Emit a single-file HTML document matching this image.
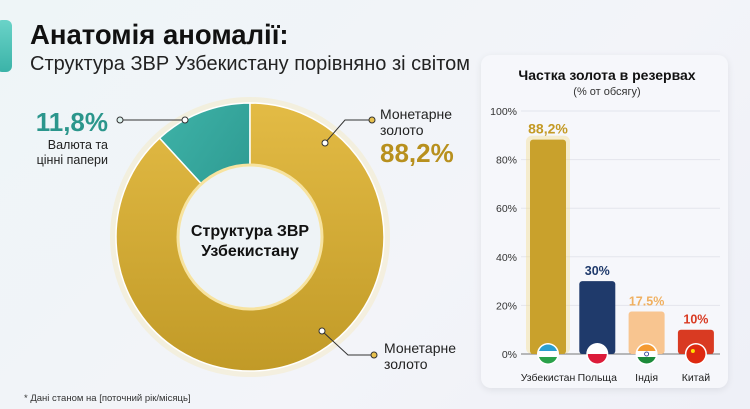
<!DOCTYPE html>
<html><head><meta charset="utf-8"><style>
body{margin:0;width:750px;height:409px;overflow:hidden;background:linear-gradient(135deg,#eef5f7,#f3f4f9 60%,#eef0f7);font-family:"Liberation Sans","Noto Sans CJK SC",sans-serif;position:relative}
.abs{position:absolute}
</style></head><body>
<div class="abs" style="left:-4px;top:20px;width:16px;height:52px;border-radius:6px;background:linear-gradient(#6ad3c8,#3bb3a8)"></div>
<div class="abs" style="left:30px;top:19px;font-size:27.5px;font-weight:bold;color:#111">Анатомія аномалії:</div>
<div class="abs" style="left:30px;top:53px;font-size:20px;color:#222">Структура ЗВР Узбекистану порівняно зі світом</div>

<svg class="abs" style="left:0;top:0" width="480" height="409">
  <defs>
    <linearGradient id="gold" x1="0" y1="0" x2="0" y2="1"><stop offset="0" stop-color="#e3bb45"/><stop offset="1" stop-color="#c19a27"/></linearGradient>
    <linearGradient id="teal" x1="0" y1="0" x2="1" y2="1"><stop offset="0" stop-color="#3fb3a8"/><stop offset="1" stop-color="#2a958d"/></linearGradient>
  </defs>
  <circle cx="250" cy="237" r="140" fill="#f7e6b0" opacity="0.35"/>
  <g id="slices"></g>
  <circle cx="250" cy="237" r="72" fill="#eef3f6" stroke="#f7e3a0" stroke-width="3"/>
  <text x="250" y="236" text-anchor="middle" font-size="16" font-weight="bold" fill="#111">Структура ЗВР</text>
  <text x="250" y="256" text-anchor="middle" font-size="16" font-weight="bold" fill="#111">Узбекистану</text>
  <g stroke="#333" fill="#fff" stroke-width="1">
    <line x1="120" y1="120" x2="185" y2="120"/><circle cx="120" cy="120" r="3" fill="#dff3f0"/><circle cx="185" cy="120" r="3"/>
  </g>
  <text x="108" y="131" text-anchor="end" font-size="26" font-weight="bold" fill="#2b968c">11,8%</text>
  <text x="108" y="149" text-anchor="end" font-size="12.5" fill="#222">Валюта та</text>
  <text x="108" y="164" text-anchor="end" font-size="12.5" fill="#222">цінні папери</text>
  <g stroke="#333" fill="#fff" stroke-width="1">
    <polyline fill="none" points="325,143 345,120 372,120"/><circle cx="325" cy="143" r="3"/><circle cx="372" cy="120" r="3" fill="#e8c14e"/>
  </g>
  <text x="380" y="119" font-size="14" fill="#222">Монетарне</text>
  <text x="380" y="135" font-size="14" fill="#222">золото</text>
  <text x="380" y="162" font-size="26" font-weight="bold" fill="#b8901e">88,2%</text>
  <g stroke="#333" fill="#fff" stroke-width="1">
    <polyline fill="none" points="322,331 348,355 374,355"/><circle cx="322" cy="331" r="3"/><circle cx="374" cy="355" r="3" fill="#e8c14e"/>
  </g>
  <text x="384" y="353" font-size="14" fill="#222">Монетарне</text>
  <text x="384" y="369" font-size="14" fill="#222">золото</text>
</svg>
<div class="abs" style="left:24px;top:393px;font-size:9.5px;color:#333">* Дані станом на [поточний рік/місяць]</div>

<div class="abs" style="left:481px;top:55px;width:247px;height:333px;border-radius:10px;background:#f6f7fb;box-shadow:0 2px 8px rgba(0,0,0,0.08)"></div>
<svg class="abs" style="left:0;top:0" width="750" height="409" id="bars">
  <text x="607" y="80" text-anchor="middle" font-size="14" font-weight="bold" fill="#111">Частка золота в резервах</text>
  <text x="607" y="95" text-anchor="middle" font-size="11" fill="#333">(% от обсягу)</text>
</svg>

<script>
var donutLabels=["Валюта та цінні папери","Монетарне золото"];
var donutValues=[11.8,88.2];
var categories=["Узбекистан","Польща","Індія","Китай"];
var values=[88.2,30,17.5,10];
var valueLabels=["88,2%","30%","17.5%","10%"];
var yTicks=[0,20,40,60,80,100];

var NS="http://www.w3.org/2000/svg";
function mk(t,a,p){var e=document.createElementNS(NS,t);for(var k in a)e.setAttribute(k,a[k]);p.appendChild(e);return e;}
var g=document.getElementById('slices');
var cx=250,cy=237,R=134;
var total=donutValues.reduce(function(a,b){return a+b},0);
var fills=["url(#teal)","url(#gold)"];
var start=-Math.PI/2;
for(var i=0;i<donutValues.length;i++){
  var sweep=donutValues[i]/total*2*Math.PI;
  var a0=start-sweep,a1=start;
  var large=sweep>Math.PI?1:0;
  var d="M"+cx+","+cy+" L"+(cx+R*Math.cos(a0))+","+(cy+R*Math.sin(a0))+" A"+R+","+R+" 0 "+large+" 1 "+(cx+R*Math.cos(a1))+","+(cy+R*Math.sin(a1))+" Z";
  var p=mk('path',{d:d,fill:fills[i],stroke:"#fff","stroke-width":1.5},g);
  
  
  start=a0;
}
var s=document.getElementById('bars');
var y0=354,y100=111,xL=521,xR=720;
function yS(v){return y0-(v/100)*(y0-y100);}
function xC(i){return 548+i*49.3;}
yTicks.forEach(function(t){
  var l=mk('line',{x1:xL,x2:xR,y1:yS(t),y2:yS(t),stroke:t===0?"#777":"#e3e5ec","stroke-width":1},s);
  
  
  var tx=mk('text',{x:517,y:yS(t)+4,"text-anchor":"end","font-size":10.5,fill:"#333"},s);
  tx.textContent=t+"%";
  
  
});
var barFill=["#c9a12c","#1f3a6b","#f8c590","#d93a22"];
var lblFill=["#c49a25","#1f3a6b","#f0b060","#d93a22"];
values.forEach(function(v,i){
  var x=xC(i)-18;
  if(i===0){mk('rect',{x:x-4,y:yS(v)-4,width:44,height:y0-yS(v)+4,rx:6,fill:"#f6dd8a",opacity:0.4},s);}
  var b=mk('rect',{x:x,y:yS(v),width:36,height:y0-yS(v),rx:3,fill:barFill[i]},s);
  
  
  var t=mk('text',{x:xC(i),y:yS(v)-6,"text-anchor":"middle","font-size":i===0?14:12.5,"font-weight":"bold",fill:lblFill[i]},s);
  t.textContent=valueLabels[i];
  
  
  var c=mk('text',{x:xC(i),y:381,"text-anchor":"middle","font-size":10.5,fill:"#222"},s);
  c.textContent=categories[i];
  
  
  var fg=mk('g',{},s);
  
  
  var fx=xC(i),fy=y0;
  mk('circle',{cx:fx,cy:fy,r:11,fill:"#fff"},fg);
  var cp="clip"+i; var cl=mk('clipPath',{id:cp},fg); mk('circle',{cx:fx,cy:fy,r:9.5},cl);
  var inner=mk('g',{"clip-path":"url(#"+cp+")"},fg);
  if(i===0){mk('rect',{x:fx-10,y:fy-10,width:20,height:7,fill:"#2a9fd0"},inner);mk('rect',{x:fx-10,y:fy-3,width:20,height:6,fill:"#fff"},inner);mk('rect',{x:fx-10,y:fy+3,width:20,height:7,fill:"#2aa14a"},inner);}
  if(i===1){mk('rect',{x:fx-10,y:fy-10,width:20,height:10,fill:"#fff"},inner);mk('rect',{x:fx-10,y:fy,width:20,height:10,fill:"#dc1c3a"},inner);}
  if(i===2){mk('rect',{x:fx-10,y:fy-10,width:20,height:7,fill:"#f49a32"},inner);mk('rect',{x:fx-10,y:fy-3,width:20,height:6,fill:"#fff"},inner);mk('rect',{x:fx-10,y:fy+3,width:20,height:7,fill:"#1c8a3a"},inner);mk('circle',{cx:fx,cy:fy,r:2,fill:"none",stroke:"#1a2b88","stroke-width":0.8},inner);}
  if(i===3){mk('rect',{x:fx-10,y:fy-10,width:20,height:20,fill:"#de2910"},inner);mk('circle',{cx:fx-3,cy:fy-3,r:2,fill:"#ffde00"},inner);}
});
</script>
</body></html>
